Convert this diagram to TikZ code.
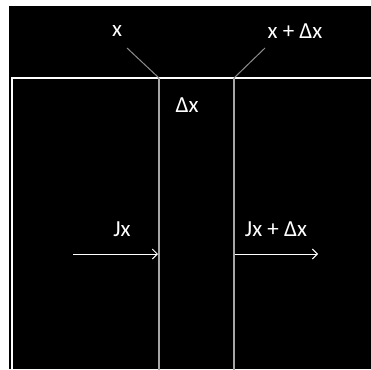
\documentclass[tikz,border=0pt]{standalone}
\usepackage{fontspec}
\setmainfont{Carlito}
\usetikzlibrary{arrows.meta}
\begin{document}
\begin{tikzpicture}[x=1pt,y=-1pt,
  lbl/.style={text=white,font=\fontsize{23}{26}\selectfont,inner sep=0pt},
  divider/.style={draw=white!65!black,line width=1.2pt},
  leader/.style={draw=white!55!black,line width=1pt},
  flux/.style={draw=white,line width=1pt,-{Straight Barb[length=5pt,width=10pt]}},
  frame/.style={draw=white,line width=2pt}]
\useasboundingbox (0,0) rectangle (371,369);
\fill[white] (0,0) rectangle (371,369);
\fill[black] (9,6) rectangle (371,369);
% frame
\draw[frame] (12,370) -- (12,78) -- (372,78);
% dividers
\coordinate (xa) at (159,78);
\coordinate (xb) at (234,78);
\draw[divider] (xa) -- (159,370);
\draw[divider] (xb) -- (234,370);
% labels
\node[lbl] (lx) at (117,31) {x};
\node[lbl] (lxd) at (295,31) {x + Δx};
\node[lbl] (ldx) at (187,105) {Δx};
\node[lbl] (ljx) at (122,229) {Jx};
\node[lbl] (ljxd) at (276,229) {Jx + Δx};
% leaders
\coordinate (la) at (127,48);
\coordinate (lb) at (265,48);
\draw[leader] (la) -- (xa);
\draw[leader] (lb) -- (xb);
% flux arrows
\coordinate (a1) at (73,254);
\coordinate (a2) at (158,254);
\coordinate (b1) at (235,254);
\coordinate (b2) at (318,254);
\draw[flux] (a1) -- (a2);
\draw[flux] (b1) -- (b2);
\end{tikzpicture}
\end{document}
